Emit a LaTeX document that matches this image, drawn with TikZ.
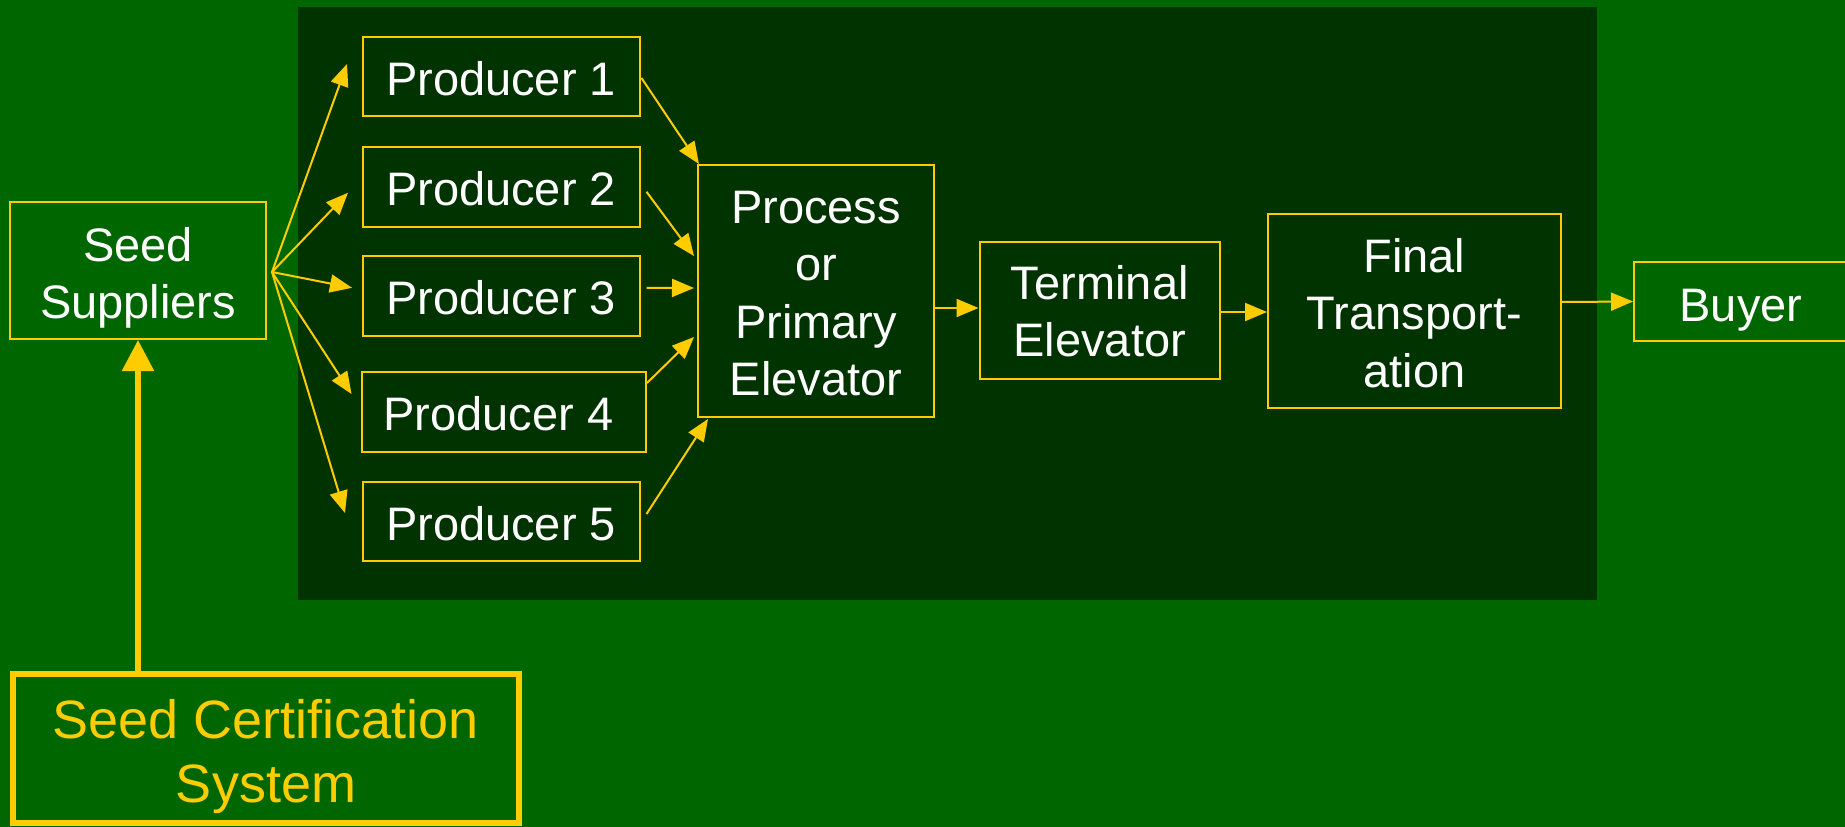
\documentclass[tikz,border=0pt]{standalone}
\usepackage{fontspec}
\setmainfont{Liberation Sans}
\usetikzlibrary{arrows.meta,calc}
\definecolor{bggreen}{HTML}{006600}
\definecolor{panelgreen}{HTML}{003300}
\definecolor{gold}{HTML}{FFCC00}
\newcommand{\dnlines}[2]{\raisebox{-#1}[\height][\depth]{\begin{tabular}{@{}c@{}}#2\end{tabular}}}
\tikzset{
  box/.style={draw=gold, line width=2pt, inner sep=0pt, text=white, align=center,
    font=\fontsize{47}{57.5}\selectfont},
  arr/.style={draw=gold, line width=2pt, -{Triangle[length=22pt,width=18pt]}, fill=gold},
  thickarr/.style={draw=gold, line width=5.5pt, -{Triangle[length=31pt,width=31pt]}},
}
\begin{document}
\begin{tikzpicture}[x=1pt,y=-1pt]
\useasboundingbox (0,0) rectangle (1845,827);
\fill[bggreen] (0,0) rectangle (1845,827);
\fill[panelgreen] (298,7) rectangle (1597,600);

\node[box, minimum width=256pt, minimum height=137pt] (SS) at (138,270.5) {\dnlines{8pt}{Seed\\Suppliers}};
\node[box, minimum width=277pt, minimum height=79pt] (P1) at (501,76.5) {\dnlines{7pt}{Producer 1}};
\node[box, minimum width=277pt, minimum height=79.5pt] (P2) at (501,186.75) {\dnlines{7pt}{Producer 2}};
\node[box, minimum width=277pt, minimum height=79.5pt] (P3) at (501,295.8) {\dnlines{7pt}{Producer 3}};
\node[box, minimum width=284pt, minimum height=80pt] (P4) at (504,412) {\dnlines{7pt}{Producer 4}\hspace*{11pt}};
\node[box, minimum width=277pt, minimum height=79pt] (P5) at (501,521.5) {\dnlines{7pt}{Producer 5}};
\node[box, minimum width=236pt, minimum height=252pt] (Proc) at (816,291) {\dnlines{7pt}{Process\\or\\Primary\\Elevator}};
\node[box, minimum width=240.5pt, minimum height=137pt] (Term) at (1099.75,310.5) {\dnlines{6pt}{Terminal\\Elevator}};
\node[box, minimum width=293pt, minimum height=194pt] (Final) at (1414.5,311) {\dnlines{7pt}{Final\\Transport-\\ation}};
\node[box, minimum width=214pt, minimum height=79pt] (Buyer) at (1741,301.5) {\dnlines{8pt}{Buyer}};
\node[draw=gold, line width=6pt, inner sep=0pt, text=gold, align=center,
  font=\fontsize{54}{63.5}\selectfont, minimum width=506pt, minimum height=149pt]
  (Cert) at (266,748.5) {\dnlines{9.5pt}{Seed Certification\\System}};

\coordinate (fan) at (272,272);
\draw[arr] (fan) -- ([xshift=-14.5pt,yshift=12.5pt]P1.west);
\draw[arr] (fan) -- ([xshift=-13.5pt,yshift=-6pt]P2.west);
\draw[arr] (fan) -- ([xshift=-9.5pt,yshift=8pt]P3.west);
\draw[arr] (fan) -- ([xshift=-9.5pt,yshift=18pt]P4.west);
\draw[arr] (fan) -- ([xshift=-16.5pt,yshift=8.5pt]P5.west);

\draw[arr] ([xshift=1pt,yshift=-1.5pt]P1.east) -- ([xshift=2pt]Proc.north west);
\draw[arr] ([xshift=6pt,yshift=-5pt]P2.east) -- ([xshift=-3pt,yshift=35pt]Proc.west);
\draw[arr] ([xshift=6pt,yshift=8pt]P3.east) -- ([xshift=-3pt,yshift=3pt]Proc.west);
\draw[arr] ([yshift=29pt]P4.east) -- ([xshift=-3pt,yshift=-46pt]Proc.west);
\draw[arr] ([xshift=6pt,yshift=7.5pt]P5.east) -- ([xshift=11pt,yshift=-1pt]Proc.south west);

\draw[arr] ([yshift=-17pt]Proc.east) -- ([yshift=-17pt]Proc.east -| Term.west);
\draw[arr] ([yshift=-1.5pt]Term.east) -- ([yshift=-1.5pt]Term.east -| Final.west);
\draw[arr] ([yshift=9pt]Final.east) -- (Buyer.west);

\draw[thickarr] ([yshift=-4pt]SS.south |- Cert.north) -- (SS.south);
\end{tikzpicture}
\end{document}
